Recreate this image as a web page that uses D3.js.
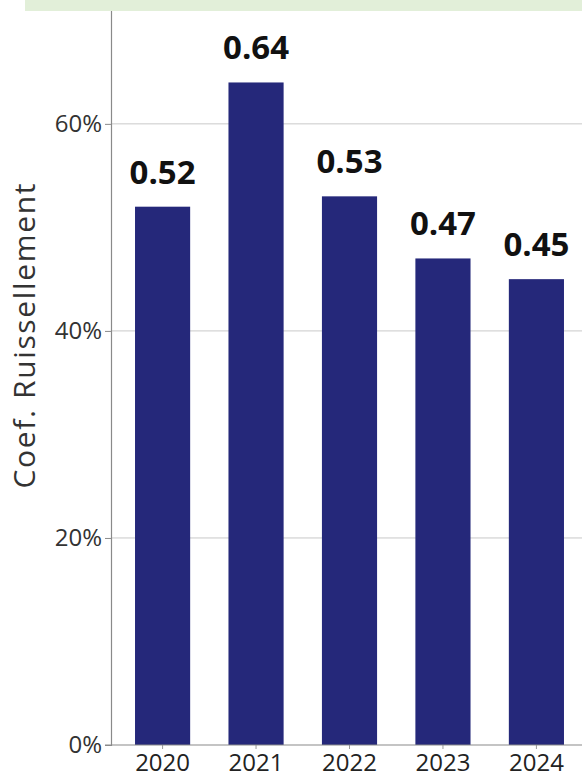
<!DOCTYPE html>
<html>
<head>
<meta charset="utf-8">
<script src="https://cdn.jsdelivr.net/npm/d3@7/dist/d3.min.js"></script>
<style>
  html, body { margin: 0; padding: 0; background: #ffffff; }
  svg { display: block; }
  text { font-family: "Open Sans", sans-serif; }
</style>
</head>
<body>
<svg id="chart" width="582" height="778"></svg>
<script>
// Runoff coefficient per year
const years = ["2020", "2021", "2022", "2023", "2024"];
const coefficients = [0.52, 0.64, 0.53, 0.47, 0.45];
const yTicks = [0, 0.2, 0.4, 0.6];
const yTitle = "Coef. Ruissellement";

const svg = d3.select("#chart");
const W = 582, H = 778;
const axisX = 111, baseY = 745;

const x = d3.scaleBand()
  .domain(years)
  .range([axisX, 588])
  .paddingInner(0.41)
  .paddingOuter(0.257);

const y = d3.scaleLinear()
  .domain([0, 0.71])
  .range([baseY, 10]);

const rows = years.map((yr, i) => ({ yr, v: coefficients[i] }));

// Horizontal gridlines
svg.append("g")
  .selectAll("line")
  .data(yTicks.filter(d => d > 0))
  .join("line")
  .attr("x1", axisX).attr("x2", W)
  .attr("y1", d => y(d)).attr("y2", d => y(d))
  .attr("stroke", "#c9c9c9")
  .attr("stroke-width", 1);

// Bars
svg.append("g")
  .selectAll("rect")
  .data(rows)
  .join("rect")
  .attr("x", d => x(d.yr))
  .attr("width", x.bandwidth())
  .attr("y", d => y(d.v))
  .attr("height", d => baseY - y(d.v))
  .attr("fill", "#25287a");

// Value labels
svg.append("g")
  .selectAll("text")
  .data(rows)
  .join("text")
  .attr("x", d => x(d.yr) + x.bandwidth() / 2)
  .attr("y", d => y(d.v) - 23)
  .attr("text-anchor", "middle")
  .attr("font-size", 33)
  .attr("font-weight", 700)
  .attr("fill", "#111")
  .text(d => d.v.toFixed(2));

// Y axis
const yAxis = svg.append("g")
  .attr("transform", `translate(${axisX},0)`)
  .call(d3.axisLeft(y)
    .tickValues(yTicks)
    .tickFormat(d3.format(".0%"))
    .tickSize(6)
    .tickPadding(3));
yAxis.select(".domain").attr("stroke", "#8a8a8a").attr("stroke-width", 1.2);
yAxis.selectAll(".tick line").attr("stroke", "#8a8a8a");
yAxis.selectAll(".tick text")
  .attr("font-size", 24)
  .attr("fill", "#333")
  .attr("font-family", "'Open Sans', sans-serif");

// X axis
const xAxis = svg.append("g")
  .attr("transform", `translate(0,${baseY})`)
  .call(d3.axisBottom(x).tickSize(4));
xAxis.select(".domain").remove();
xAxis.append("line")
  .attr("x1", axisX - 6).attr("x2", W)
  .attr("stroke", "#8a8a8a").attr("stroke-width", 1.2);
xAxis.selectAll(".tick line").attr("stroke", "#9a9a9a");
xAxis.selectAll(".tick text")
  .attr("y", 26)
  .attr("dy", null)
  .attr("font-size", 24)
  .attr("fill", "#222")
  .attr("font-family", "'Open Sans', sans-serif");

// Y axis title
svg.append("text")
  .attr("transform", `translate(35,336) rotate(-90)`)
  .attr("text-anchor", "middle")
  .attr("font-size", 30)
  .attr("textLength", 305)
  .attr("lengthAdjust", "spacing")
  .attr("fill", "#333")
  .text(yTitle);

// Header band
svg.append("rect")
  .attr("x", 25).attr("y", 0)
  .attr("width", W - 25).attr("height", 11)
  .attr("fill", "#e2efd9");
</script>
</body>
</html>
